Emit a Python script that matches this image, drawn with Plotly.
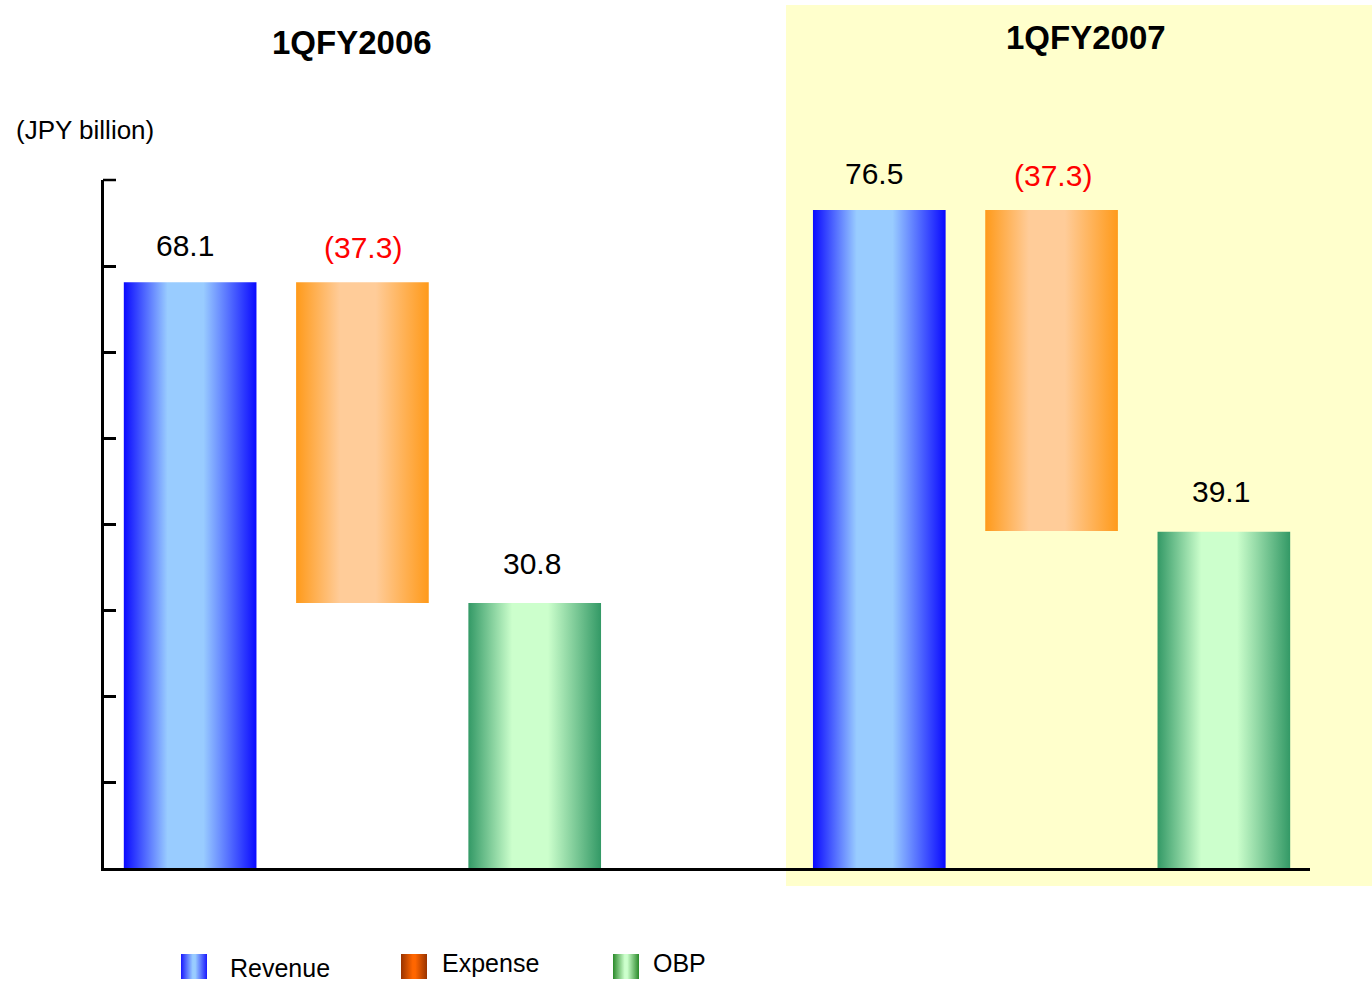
import plotly.graph_objects as go

# Quarterly results (JPY billion)
periods = ["1QFY2006", "1QFY2007"]
revenue = [68.1, 76.5]
expense = [-37.3, -37.3]
obp = [30.8, 39.1]
series_names = ["Revenue", "Expense", "OBP"]
y_max = 80

W, H = 1372, 981
FONT = "Liberation Sans, Arial, sans-serif"

# gradient colours (edge, centre) for bars and legend swatches
bar_colors = {
    "Revenue": ("#0a0aff", "#99ccff"),
    "Expense": ("#ff9a1a", "#ffcc99"),
    "OBP": ("#339966", "#ccffcc"),
}
swatch_colors = {
    "Revenue": ("#1a1aff", "#99ccff"),
    "Expense": ("#993300", "#ff6600"),
    "OBP": ("#2a8a2a", "#ccffcc"),
}
label_xshift = {"Revenue": -5, "Expense": 1, "OBP": -3}
label_yshift = {"Revenue": 37, "Expense": 35, "OBP": 40}


def scale(edge, centre):
    return [[0, edge], [0.33, centre], [0.6, centre], [1, edge]]


# plot-area placement in pixels
left, right, top, bottom = 104, 1310, 180, 868
half = 0.385  # half bar width in category units
group_start = [0, 4]

fig = go.Figure()

# yellow panel behind the second period
fig.add_shape(type="rect", xref="paper", yref="paper",
              x0=786 / W, x1=1.0, y0=1 - 886 / H, y1=1 - 5 / H,
              fillcolor="#ffffcc", line=dict(width=0), layer="below")

# tick at the top end of the value axis (top edge of the plot area)
fig.add_shape(type="line", xref="paper", yref="paper",
              x0=(left - 1) / W, x1=(left + 12) / W, y0=1 - top / H, y1=1 - top / H,
              line=dict(color="black", width=2.5))

labels = []
for g, period in enumerate(periods):
    rev = revenue[g]
    exp_base = revenue[g] + expense[g]
    spans = {
        "Revenue": (0, rev, f"{rev:.1f}", "black"),
        "Expense": (exp_base, rev, f"({abs(expense[g]):.1f})", "red"),
        "OBP": (0, obp[g], f"{obp[g]:.1f}", "black"),
    }
    for k, name in enumerate(series_names):
        lo, hi, txt, col = spans[name]
        xc = group_start[g] + k
        edge, centre = bar_colors[name]
        fig.add_trace(go.Scatter(
            x=[xc - half, xc + half, xc + half, xc - half, xc - half],
            y=[lo, lo, hi, hi, lo],
            mode="lines", fill="toself",
            line=dict(width=0, color="rgba(0,0,0,0)"),
            fillgradient=dict(type="horizontal", colorscale=scale(edge, centre)),
            hoverinfo="skip", showlegend=False, xaxis="x", yaxis="y",
        ))
        labels.append(dict(x=xc, y=hi, xref="x", yref="y", text=txt,
                           showarrow=False, yanchor="middle",
                           yshift=label_yshift[name], xshift=label_xshift[name],
                           font=dict(family=FONT, size=30, color=col)))

# legend swatches drawn on a full-page overlay axis (pixel units)
swatch_x = [181, 401, 613]
swatch_y = (954, 979)
for name, x0 in zip(series_names, swatch_x):
    edge, centre = swatch_colors[name]
    x1 = x0 + 26
    fig.add_trace(go.Scatter(
        x=[x0, x1, x1, x0, x0], y=[swatch_y[0], swatch_y[0], swatch_y[1], swatch_y[1], swatch_y[0]],
        mode="lines", fill="toself", line=dict(width=0, color="rgba(0,0,0,0)"),
        fillgradient=dict(type="horizontal",
                          colorscale=[[0, edge], [0.45, centre], [0.55, centre], [1, edge]]),
        hoverinfo="skip", showlegend=False, xaxis="x2", yaxis="y2",
    ))

legend_text = [("Revenue", 228, 968, 22), ("Expense", 440, 963, None), ("OBP", 651, 963, None)]
for txt, x, y, h in legend_text:
    ann = dict(x=x / W, y=1 - y / H, xref="paper", yref="paper", text=txt,
               showarrow=False, xanchor="left", yanchor="middle",
               font=dict(family=FONT, size=25, color="black"))
    if h:
        ann["height"] = h
    labels.append(ann)

titles = [(periods[0], 352, 42), (periods[1], 1086, 38)]
for txt, x, y in titles:
    labels.append(dict(x=x / W, y=1 - y / H, xref="paper", yref="paper", text=f"<b>{txt}</b>",
                       showarrow=False, xanchor="center", yanchor="middle",
                       font=dict(family=FONT, size=33, color="black")))

labels.append(dict(x=14 / W, y=1 - 130 / H, xref="paper", yref="paper", text="(JPY billion)",
                   showarrow=False, xanchor="left", yanchor="middle",
                   font=dict(family=FONT, size=26, color="black")))

fig.update_layout(
    width=W, height=H,
    margin=dict(l=0, r=0, t=0, b=0),
    paper_bgcolor="white", plot_bgcolor="rgba(0,0,0,0)",
    showlegend=False,
    annotations=labels,
    xaxis=dict(domain=[left / W, right / W], range=[-0.5, 6.5],
               showline=True, linewidth=2.5, linecolor="black",
               ticks="", showticklabels=False, showgrid=False, zeroline=False,
               fixedrange=True),
    yaxis=dict(domain=[1 - bottom / H, 1 - top / H], range=[0, y_max],
               tickvals=list(range(0, y_max + 1, 10)),
               showline=True, linewidth=2.5, linecolor="black",
               ticks="inside", ticklen=12, tickwidth=2.5, tickcolor="black",
               showticklabels=False, showgrid=False, zeroline=False, fixedrange=True),
    xaxis2=dict(domain=[0, 1], range=[0, W], visible=False, anchor="y2", fixedrange=True),
    yaxis2=dict(domain=[0, 1], range=[H, 0], visible=False, anchor="x2", fixedrange=True),
)

fig.write_html("out.html", config={"displayModeBar": False})
